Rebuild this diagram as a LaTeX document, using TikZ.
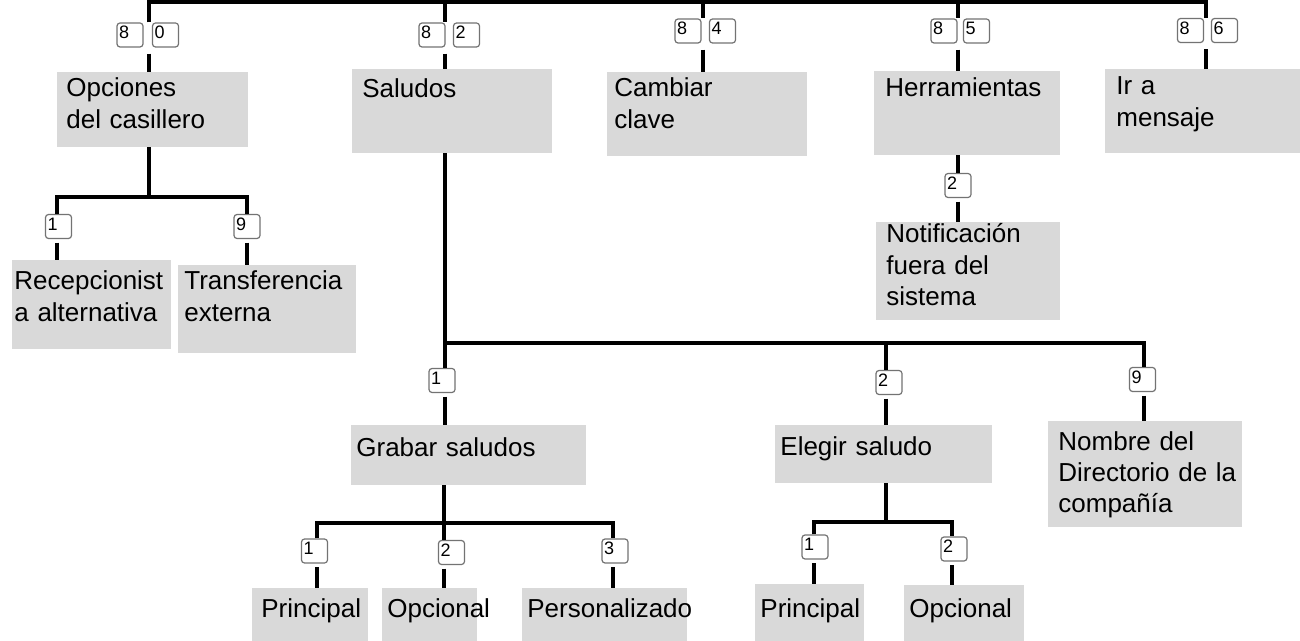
\documentclass[tikz,border=0pt]{standalone}
\usepackage{fontspec}
\setmainfont{Liberation Sans}
\usetikzlibrary{fit}
\definecolor{menugray}{RGB}{217,217,217}
\tikzstyle{menu} = [fill=menugray, inner sep=0pt]
\tikzstyle{mtext} = [anchor=base west, inner sep=0pt, text width=95pt, align=left, font={\fontsize{13}{15.75}\selectfont}]
\tikzstyle{keycap} = [draw=black!55, fill=white, line width=0.6pt, rounded corners=1.5pt, inner xsep=1pt, inner ysep=1.2pt, text width=11pt, text height=6.6pt, text depth=3pt, align=left, font={\fontsize{9}{10}\selectfont}]
\tikzstyle{link} = [line width=1.7pt]
\tikzstyle{aftergap} = [link, shorten <=1.75pt]

\begin{document}
\begin{tikzpicture}[x=0.5pt, y=-0.5pt]
    \useasboundingbox (0,0) rectangle (1300,641);
    % branch points
    \coordinate (t80) at (149,2);
    \coordinate (t82) at (445,2);
    \coordinate (t84) at (703,2);
    \coordinate (t85) at (958,2);
    \coordinate (t86) at (1206,2);
    \coordinate (j-opc) at (149,197);
    \coordinate (b-rec) at (57,197);
    \coordinate (b-tra) at (247,197);
    \coordinate (j-sal) at (445,343);
    \coordinate (b-ele) at (886,343);
    \coordinate (b-nom) at (1144,343);
    \coordinate (j-gra) at (444,523);
    \coordinate (b-pri) at (317,523);
    \coordinate (b-per) at (613,523);
    \coordinate (j-ele) at (886,522);
    \coordinate (b-pri2) at (814,522);
    \coordinate (b-opn2) at (952,522);
    % menu boxes
    \node[menu, fit={(57,72)(248,147)}] (opc) {};
    \node[menu, fit={(352,69)(552,153)}] (sal) {};
    \node[menu, fit={(607,72)(807,156)}] (cam) {};
    \node[menu, fit={(874,71)(1060,155)}] (her) {};
    \node[menu, fit={(1105,69)(1300,153)}] (ira) {};
    \node[menu, fit={(12,260)(171,349)}] (rec) {};
    \node[menu, fit={(178,265)(356,353)}] (tra) {};
    \node[menu, fit={(876,222)(1060,320)}] (not) {};
    \node[menu, fit={(351,425)(586,485)}] (gra) {};
    \node[menu, fit={(775,425)(992,483)}] (ele) {};
    \node[menu, fit={(1048,421)(1242,527)}] (nom) {};
    \node[menu, fit={(252,588)(368,641)}] (pri) {};
    \node[menu, fit={(382,588)(477,641)}] (opn) {};
    \node[menu, fit={(522,588)(687,641)}] (per) {};
    \node[menu, fit={(755,584)(864,641)}] (pri2) {};
    \node[menu, fit={(904,585)(1024,641)}] (opn2) {};
    % menu texts
    \node[mtext] (opc-t) at (66,97) {Opciones\\del casillero};
    \node[mtext] (sal-t) at (362,98) {Saludos};
    \node[mtext] (cam-t) at (614,97) {Cambiar\\clave};
    \node[mtext] (her-t) at (885,97) {Herramientas};
    \node[mtext] (ira-t) at (1116,95) {Ir a\\mensaje};
    \node[mtext] (rec-t) at (14,290) {Recepcionist\\a alternativa};
    \node[mtext] (tra-t) at (184,290) {Transferencia\\externa};
    \node[mtext] (not-t) at (886,243) {Notificación\\fuera del\\sistema};
    \node[mtext] (gra-t) at (356,456) {Grabar saludos};
    \node[mtext] (ele-t) at (780,455) {Elegir saludo};
    \node[mtext] (nom-t) at (1058,450) {Nombre del\\Directorio de la\\compañía};
    \node[mtext] (pri-t) at (261,617) {Principal};
    \node[mtext] (opn-t) at (387,617) {Opcional};
    \node[mtext] (per-t) at (527,617) {Personalizado};
    \node[mtext] (pri2-t) at (760,617) {Principal};
    \node[mtext] (opn2-t) at (909,617) {Opcional};
    % keys
    \node[keycap] (k80a) at (130,35) {8};
    \node[keycap] (k80b) at (165.5,35) {0};
    \node[keycap] (k82a) at (432,35) {8};
    \node[keycap] (k82b) at (466.5,35) {2};
    \node[keycap] (k84a) at (688,31) {8};
    \node[keycap] (k84b) at (722.5,31) {4};
    \node[keycap] (k85a) at (944,31) {8};
    \node[keycap] (k85b) at (976.5,31) {5};
    \node[keycap] (k86a) at (1190.5,30.5) {8};
    \node[keycap] (k86b) at (1224.5,30.5) {6};
    \node[keycap] (k-rec) at (58.5,226.5) {1};
    \node[keycap] (k-tra) at (247,226.5) {9};
    \node[keycap] (k-not) at (958,185.5) {2};
    \node[keycap] (k-gra) at (442,380.5) {1};
    \node[keycap] (k-ele) at (889,382.5) {2};
    \node[keycap] (k-nom) at (1142.5,379.5) {9};
    \node[keycap] (k-pri) at (314.5,551) {1};
    \node[keycap] (k-opn) at (451.5,552.5) {2};
    \node[keycap] (k-per) at (615,551) {3};
    \node[keycap] (k-pri2) at (815,547) {1};
    \node[keycap] (k-opn2) at (954,549) {2};
    % top bar
    \draw[link] (t80 |- k80a.north) -- (t80) -- (t86) -- (t86 |- k86a.north);
    \draw[link] (t82) -- (t82 |- k82a.north);
    \draw[link] (t84) -- (t84 |- k84a.north);
    \draw[link] (t85) -- (t85 |- k85a.north);
    \draw[aftergap, shorten <=3pt] (t80 |- k80a.south) -- (t80 |- opc.north);
    \draw[aftergap, shorten <=3pt] (t82 |- k82a.south) -- (t82 |- sal.north);
    \draw[aftergap, shorten <=3pt] (t84 |- k84a.south) -- (t84 |- cam.north);
    \draw[aftergap, shorten <=3pt] (t85 |- k85a.south) -- (t85 |- her.north);
    \draw[aftergap, shorten <=3pt] (t86 |- k86a.south) -- (t86 |- ira.north);
    % Opciones del casillero
    \draw[link] (j-opc |- opc.south) -- (j-opc);
    \draw[link] (b-rec |- k-rec.north) -- (b-rec) -- (b-tra) -- (b-tra |- k-tra.north);
    \draw[aftergap] (b-rec |- k-rec.south) -- (b-rec |- rec.north);
    \draw[aftergap] (b-tra |- k-tra.south) -- (b-tra |- tra.north);
    % Herramientas
    \draw[link] (t85 |- her.south) -- (t85 |- k-not.north);
    \draw[aftergap] (t85 |- k-not.south) -- (t85 |- not.north);
    % Saludos
    \draw[link] (t82 |- sal.south) -- (t82 |- k-gra.north);
    \draw[link] (j-sal) -- (b-nom) -- (b-nom |- k-nom.north);
    \draw[link] (b-ele) -- (b-ele |- k-ele.north);
    \draw[aftergap] (t82 |- k-gra.south) -- (t82 |- gra.north);
    \draw[aftergap] (b-ele |- k-ele.south) -- (b-ele |- ele.north);
    \draw[aftergap] (b-nom |- k-nom.south) -- (b-nom |- nom.north);
    % Grabar saludos
    \draw[link] (j-gra |- gra.south) -- (j-gra |- k-opn.north);
    \draw[link] (b-pri |- k-pri.north) -- (b-pri) -- (b-per) -- (b-per |- k-per.north);
    \draw[aftergap] (b-pri |- k-pri.south) -- (b-pri |- pri.north);
    \draw[aftergap] (j-gra |- k-opn.south) -- (j-gra |- opn.north);
    \draw[aftergap] (b-per |- k-per.south) -- (b-per |- per.north);
    % Elegir saludo
    \draw[link] (j-ele |- ele.south) -- (j-ele);
    \draw[link] (b-pri2 |- k-pri2.north) -- (b-pri2) -- (b-opn2) -- (b-opn2 |- k-opn2.north);
    \draw[aftergap] (b-pri2 |- k-pri2.south) -- (b-pri2 |- pri2.north);
    \draw[aftergap] (b-opn2 |- k-opn2.south) -- (b-opn2 |- opn2.north);
\end{tikzpicture}
\end{document}
